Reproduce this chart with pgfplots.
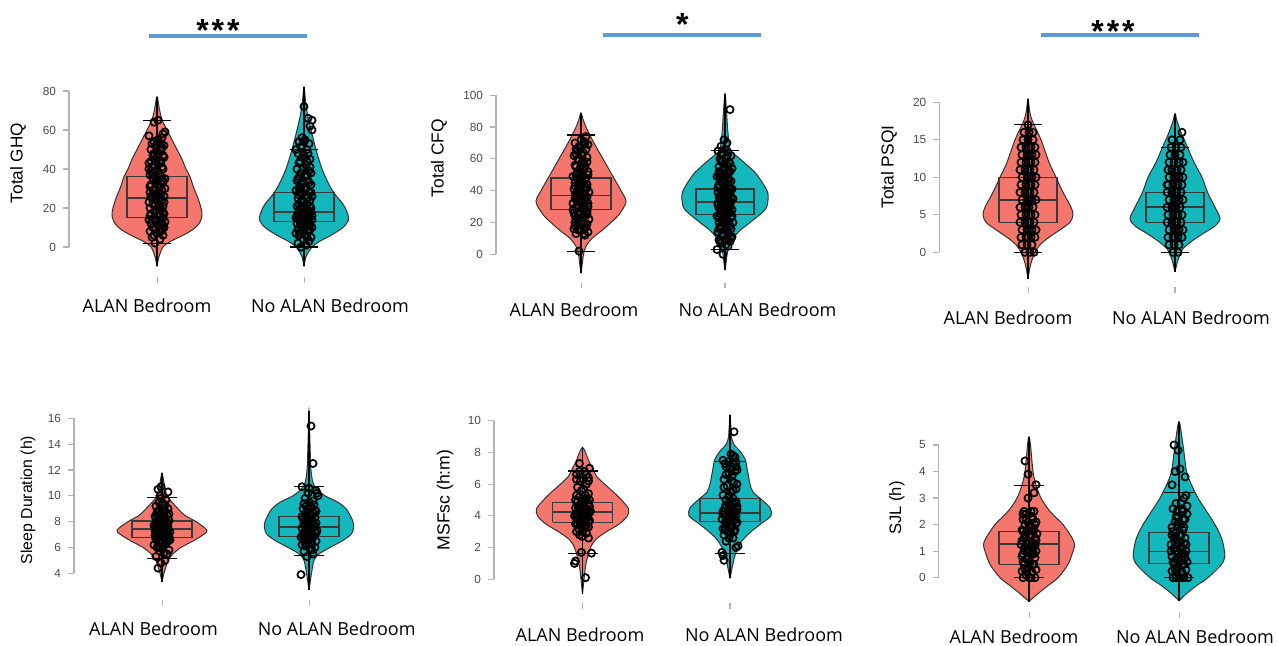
\documentclass[border=0pt]{standalone}
\usepackage{pgfplots}
\pgfplotsset{compat=1.18}
\usepackage{fontspec}
\setmainfont{Liberation Sans}
\newfontfamily\catfont{Open Sans}
\definecolor{vred}{HTML}{F5766C}
\definecolor{vteal}{HTML}{14B7BB}
\definecolor{edge}{HTML}{333333}
\definecolor{boxc}{HTML}{3A3A3A}
\definecolor{sigblue}{HTML}{5B9BD5}
\definecolor{axgray}{HTML}{B4B4B4}
\definecolor{labgray}{HTML}{4A4A4A}
\newcommand{\starfont}{\fontsize{16}{16}\selectfont\bfseries}
\newcommand{\cf}{\catfont\fontsize{9}{10}\selectfont}
\pgfplotsset{
 vio/.style={scale only axis, anchor=south west, axis y line*=left, axis x line=none, clip=false,
   tick align=outside, major tick length=3pt,
   axis line style={draw=axgray, line width=0.6pt},
   tick style={draw=axgray, line width=0.6pt},
   yticklabel style={font=\fontsize{5.9}{6}\selectfont, text=labgray},
   /pgf/number format/assume math mode=true, xtick=\empty},
 vR/.style={fill=vred, draw=edge, line width=0.5pt, smooth, tension=0.5},
 vT/.style={fill=vteal, draw=edge, line width=0.5pt, smooth, tension=0.5},
 bx/.style={draw=boxc, line width=0.6pt},
 md/.style={draw=boxc, line width=0.9pt},
 wk/.style={draw=black, line width=0.55pt},
 pt/.style={only marks, mark=o, mark size=1.8pt, mark options={draw=black, line width=0.85pt}}
}
\begin{document}
\begin{tikzpicture}
\path[use as bounding box] (0,0) rectangle (639pt,323pt);
% ---------------- Panel 1: Total GHQ
\begin{axis}[vio, at={(34.5pt,199.5pt)}, width=165.5pt, height=78pt, xmin=69, xmax=400, ymin=0, ymax=80, ytick={0,20,40,60,80}]
\addplot[vR] table[x expr=\thisrowno{0}+157, y index=1, row sep=\\]{0 -10\\ 2 -5\\ 6 0\\ 14 3\\ 26 6\\ 36 9\\ 42 12\\ 45 16\\ 44 20\\ 41 25\\ 37 30\\ 33 36\\ 29 40\\ 25 45\\ 20 50\\ 15 55\\ 10 60\\ 6 64\\ 3.5 68\\ 2 72\\ 0 77\\ -2 72\\ -3.5 68\\ -6 64\\ -10 60\\ -15 55\\ -20 50\\ -25 45\\ -29 40\\ -33 36\\ -37 30\\ -41 25\\ -44 20\\ -45 16\\ -42 12\\ -36 9\\ -26 6\\ -14 3\\ -6 0\\ -2 -5\\ 0 -10\\};
\addplot[vT] table[x expr=\thisrowno{0}+304, y index=1, row sep=\\]{0 -10\\ 2 -5\\ 8 0\\ 16 3\\ 27 6\\ 39 10\\ 44.5 14\\ 43 18\\ 39 22\\ 31 27\\ 25 32\\ 18 40\\ 12 50\\ 7 60\\ 3.5 68\\ 1.5 75\\ 0 82\\ -1.5 75\\ -3.5 68\\ -7 60\\ -12 50\\ -18 40\\ -25 32\\ -31 27\\ -39 22\\ -43 18\\ -44.5 14\\ -39 10\\ -27 6\\ -16 3\\ -8 0\\ -2 -5\\ 0 -10\\};
\addplot[bx] coordinates {(127,15) (187,15) (187,36) (127,36) (127,15)};
\addplot[md] coordinates {(127,25) (187,25)};
\addplot[wk] coordinates {(157,-10) (157,77)};
\addplot[wk] coordinates {(143,65) (171,65)};
\addplot[wk] coordinates {(143,2) (171,2)};
\addplot[bx] coordinates {(274,13) (334,13) (334,28) (274,28) (274,13)};
\addplot[md] coordinates {(274,18) (334,18)};
\addplot[wk] coordinates {(304,-10) (304,82)};
\addplot[wk] coordinates {(290,50) (318,50)};
\addplot[wk] coordinates {(290,0) (318,0)};
\addplot[pt] table[x expr=\thisrowno{0}+157, y index=1, row sep=\\]{-2 2\\ 3 4\\ -5 5\\ 6 6\\ 0 7\\ -7 8\\ 4 8\\ -2 9\\ 7 10\\ -4 10\\ 1 11\\ -6 12\\ 5 12\\ -1 13\\ 3 14\\ -8 14\\ 6 15\\ -3 15\\ 1 16\\ -6 17\\ 7 17\\ -2 18\\ 4 19\\ -7 20\\ 1 20\\ 6 21\\ -4 22\\ 2 22\\ -8 23\\ 5 24\\ -1 24\\ -5 25\\ 3 25\\ 7 26\\ -3 27\\ 1 28\\ -7 28\\ 5 29\\ -2 30\\ 3 31\\ -6 32\\ 6 33\\ 0 34\\ -4 35\\ 4 36\\ -7 37\\ 2 38\\ -2 39\\ 6 40\\ -5 41\\ 1 42\\ -8 43\\ 4 44\\ -2 45\\ 7 46\\ -4 47\\ 2 48\\ -6 50\\ 5 51\\ -1 52\\ -5 53\\ 4 53\\ 1 55\\ -8 57\\ 6 58\\ 8 59\\ -3 64\\ 1 65\\ 6 18\\ -6 26\\ 8 30\\ -1 33\\ -5 38\\ 3 43\\ -3 48\\ 7 52\\ 8 13\\ 5 9\\ 8 35\\ -8 40\\ -3 6\\ 6 11\\ -7 16\\ -2 19\\ 2 21\\ 7 23\\ -1 26\\ 4 27\\ -4 29\\ -7 31\\ 1 32\\ 6 34\\ -2 36\\ 3 37\\ -6 39\\ 5 41\\ -3 42\\ -6 44\\ 1 46\\ 6 47\\ -1 49\\ 4 50\\ -3 54\\ 5 56\\};
\addplot[pt] table[x expr=\thisrowno{0}+304, y index=1, row sep=\\]{-3 0\\ 2 1\\ -6 2\\ 5 3\\ -1 4\\ 7 5\\ -5 6\\ 2 6\\ -8 7\\ 4 8\\ -2 8\\ 6 9\\ -6 9\\ 0 10\\ 8 10\\ -4 11\\ 3 11\\ -7 12\\ 6 12\\ -1 13\\ 4 13\\ -5 14\\ 8 14\\ 1 15\\ -8 15\\ 5 16\\ -3 16\\ 2 17\\ -6 17\\ 7 18\\ -1 18\\ 4 19\\ -5 19\\ 0 20\\ 7 20\\ -7 21\\ 3 22\\ -3 23\\ 6 24\\ -6 25\\ 1 26\\ -2 27\\ 5 28\\ -8 29\\ 2 30\\ -4 31\\ 7 32\\ -1 33\\ 4 34\\ -6 35\\ 1 36\\ -3 38\\ 5 39\\ -7 40\\ 2 42\\ -4 44\\ 6 45\\ -1 47\\ -6 48\\ 3 50\\ -3 51\\ 5 53\\ -5 54\\ 1 55\\ -2 56\\ 8 60\\ 6 62\\ 8 65\\ 4 66\\ 0 72\\ -5 22\\ 8 26\\ -5 30\\ -7 34\\ 7 38\\ 3 44\\ -8 50\\ -2 24\\ -4 28\\ 1 12\\ 8 16\\ 3 5\\ -4 7\\ 5 9\\ -2 11\\ 2 14\\ -7 16\\ 4 18\\ -3 20\\ 6 21\\ -1 23\\ 3 25\\ -6 27\\ 7 28\\ 0 30\\ -2 32\\ 5 33\\ -5 36\\ 3 37\\ -1 40\\ 6 41\\ -5 43\\ 1 46\\ 4 48\\ -2 52\\ 0 54\\};
\end{axis}
% ---------------- Panel 2: Total CFQ
\begin{axis}[vio, at={(248pt,195.85pt)}, width=177pt, height=79.5pt, xmin=496, xmax=850, ymin=0, ymax=100, ytick={0,20,40,60,80,100}]
\addplot[vR] table[x expr=\thisrowno{0}+581, y index=1, row sep=\\]{0 -12\\ 1.5 -5\\ 2.5 0\\ 5 5\\ 11 10\\ 21 15\\ 30 20\\ 38 25\\ 45 33\\ 40 40\\ 31 50\\ 22 60\\ 13 70\\ 5 80\\ 2 85\\ 0 89\\ -2 85\\ -5 80\\ -13 70\\ -22 60\\ -31 50\\ -40 40\\ -45 33\\ -38 25\\ -30 20\\ -21 15\\ -11 10\\ -5 5\\ -2.5 0\\ -1.5 -5\\ 0 -12\\};
\addplot[vT] table[x expr=\thisrowno{0}+725, y index=1, row sep=\\]{0 -10\\ 1.5 -3\\ 2 0\\ 4 5\\ 8 10\\ 15 15\\ 25 20\\ 40 28\\ 43 34\\ 42 40\\ 32 50\\ 24 55\\ 15 60\\ 6 65\\ 4 70\\ 2.5 80\\ 1.5 90\\ 0 101\\ -1.5 90\\ -2.5 80\\ -4 70\\ -6 65\\ -15 60\\ -24 55\\ -32 50\\ -42 40\\ -43 34\\ -40 28\\ -25 20\\ -15 15\\ -8 10\\ -4 5\\ -2 0\\ -1.5 -3\\ 0 -10\\};
\addplot[bx] coordinates {(551,28) (611,28) (611,48) (551,48) (551,28)};
\addplot[md] coordinates {(551,37) (611,37)};
\addplot[wk] coordinates {(581,-12) (581,89)};
\addplot[wk] coordinates {(567,75) (595,75)};
\addplot[wk] coordinates {(567,2) (595,2)};
\addplot[bx] coordinates {(696,25) (754,25) (754,41) (696,41) (696,25)};
\addplot[md] coordinates {(696,33) (754,33)};
\addplot[wk] coordinates {(725,-10) (725,101)};
\addplot[wk] coordinates {(711,65) (739,65)};
\addplot[wk] coordinates {(711,3) (739,3)};
\addplot[pt] table[x expr=\thisrowno{0}+581, y index=1, row sep=\\]{-2 2\\ 4 12\\ -5 13\\ 7 14\\ 0 15\\ -7 16\\ 3 17\\ -3 18\\ 6 19\\ -6 20\\ 1 21\\ 8 22\\ -4 23\\ 4 24\\ -1 25\\ -7 26\\ 6 27\\ 2 28\\ -5 29\\ 7 30\\ -2 30\\ 3 31\\ -8 32\\ 5 33\\ -3 34\\ 1 35\\ -6 35\\ 6 36\\ -1 37\\ 4 37\\ -5 38\\ 8 39\\ 0 40\\ -7 41\\ 3 42\\ -3 43\\ 6 44\\ -6 45\\ 1 46\\ -2 47\\ 5 48\\ -8 49\\ 2 50\\ -4 51\\ 7 52\\ -1 54\\ 4 55\\ -6 56\\ 1 58\\ -3 60\\ 6 61\\ -7 62\\ 2 64\\ -4 65\\ 5 66\\ -2 68\\ 7 69\\ -6 70\\ 3 71\\ 0 72\\ 5 74\\ -2 22\\ -8 28\\ 0 33\\ -4 39\\ -1 44\\ -5 50\\ 3 57\\ -5 63\\ 0 67\\ 5 26\\ 5 41\\ 3 13\\ -2 15\\ 5 17\\ -6 18\\ 1 19\\ -3 21\\ 2 23\\ -6 24\\ 6 25\\ -1 27\\ 3 29\\ -4 31\\ 7 32\\ -2 34\\ 4 35\\ -6 37\\ 2 38\\ -3 40\\ 6 42\\ -6 43\\ 1 45\\ 4 47\\ -4 48\\ 7 50\\ -1 51\\ 2 53\\ -5 55\\ 6 58\\ -2 59\\ 1 62\\ -5 66\\ 4 70\\};
\addplot[pt] table[x expr=\thisrowno{0}+725, y index=1, row sep=\\]{-2 0\\ -8 3\\ 3 5\\ -4 7\\ 5 8\\ -6 9\\ 1 10\\ 7 11\\ -3 12\\ 4 13\\ -7 14\\ 0 15\\ 6 16\\ -5 17\\ 2 18\\ -1 19\\ 8 20\\ -6 20\\ 3 21\\ -3 22\\ 6 23\\ -8 24\\ 1 25\\ -4 25\\ 5 26\\ -2 27\\ 7 28\\ -6 29\\ 2 29\\ -1 30\\ 4 31\\ -7 32\\ 0 32\\ 6 33\\ -3 33\\ 3 34\\ -5 35\\ 8 35\\ 1 36\\ -2 37\\ 5 38\\ -7 39\\ 2 40\\ -4 40\\ 7 41\\ -1 42\\ 4 43\\ -6 44\\ 0 45\\ 6 46\\ -3 47\\ 3 48\\ -8 49\\ 1 50\\ -4 51\\ 5 52\\ -2 53\\ 7 54\\ -6 55\\ 2 56\\ -1 57\\ 4 58\\ -5 60\\ 1 61\\ 6 62\\ -3 63\\ 3 64\\ -7 65\\ 0 66\\ -4 68\\ 2 70\\ -1 72\\ 5 91\\ 3 14\\ -4 18\\ 0 23\\ 4 27\\ -4 31\\ -6 36\\ -1 38\\ 2 44\\ -5 48\\ -6 52\\ -3 58\\ 1 6\\ -5 8\\ 6 10\\ -1 12\\ 2 15\\ -6 16\\ 5 18\\ -2 20\\ 1 22\\ -6 23\\ 7 24\\ -1 26\\ 3 28\\ -4 29\\ 5 30\\ -7 31\\ 1 33\\ -2 34\\ 6 36\\ -5 37\\ 3 38\\ -1 39\\ 5 41\\ -7 42\\ 1 43\\ -3 45\\ 4 47\\ 0 49\\ -6 50\\ 3 52\\ -1 55\\ 5 57\\ -4 59\\ 2 62\\};
\end{axis}
% ---------------- Panel 3: Total PSQI
\begin{axis}[vio, at={(469.65pt,196.85pt)}, width=169.35pt, height=75pt, xmin=939.3, xmax=1278, ymin=0, ymax=20, ytick={0,5,10,15,20}]
\addplot[vR] table[x expr=\thisrowno{0}+1028, y index=1, row sep=\\]{0 -3.5\\ 2 -2\\ 4 -1\\ 7 0\\ 12 1\\ 21 2\\ 32 3\\ 42 4\\ 45 5\\ 43 6\\ 35 8\\ 28 10\\ 21 12\\ 13 15\\ 6 17\\ 3 18\\ 1.5 19\\ 0 20.4\\ -1.5 19\\ -3 18\\ -6 17\\ -13 15\\ -21 12\\ -28 10\\ -35 8\\ -43 6\\ -45 5\\ -42 4\\ -32 3\\ -21 2\\ -12 1\\ -7 0\\ -4 -1\\ -2 -2\\ 0 -3.5\\};
\addplot[vT] table[x expr=\thisrowno{0}+1175, y index=1, row sep=\\]{0 -2.6\\ 3 -1\\ 6 0\\ 8 0.5\\ 17 1.5\\ 28 2.5\\ 40 3.5\\ 45 4.5\\ 40 6\\ 32.5 8\\ 27 10\\ 19 12\\ 12.5 14\\ 6 16\\ 2 17.5\\ 0 18.5\\ -2 17.5\\ -6 16\\ -12.5 14\\ -19 12\\ -27 10\\ -32.5 8\\ -40 6\\ -45 4.5\\ -40 3.5\\ -28 2.5\\ -17 1.5\\ -8 0.5\\ -6 0\\ -3 -1\\ 0 -2.6\\};
\addplot[bx] coordinates {(999,4) (1057,4) (1057,10) (999,10) (999,4)};
\addplot[md] coordinates {(999,7) (1057,7)};
\addplot[wk] coordinates {(1028,-3.5) (1028,20.4)};
\addplot[wk] coordinates {(1014,17) (1042,17)};
\addplot[wk] coordinates {(1014,0) (1042,0)};
\addplot[bx] coordinates {(1146,4) (1204,4) (1204,8) (1146,8) (1146,4)};
\addplot[md] coordinates {(1146,6) (1204,6)};
\addplot[wk] coordinates {(1175,-2.6) (1175,18.5)};
\addplot[wk] coordinates {(1161,14) (1189,14)};
\addplot[wk] coordinates {(1161,0) (1189,0)};
\addplot[pt] table[x expr=\thisrowno{0}+1028, y index=1, row sep=\\]{-3 0\\ 2 0\\ 6 0\\ -6 1\\ -1 1\\ 4 1\\ -7 2\\ -2 2\\ 3 2\\ 7 2\\ -6 3\\ -1 3\\ 4 3\\ 8 3\\ -8 4\\ -3 4\\ 2 4\\ 6 4\\ -7 5\\ -2 5\\ 3 5\\ 7 5\\ -8 6\\ -3 6\\ 1 6\\ 5 6\\ -6 7\\ -1 7\\ 4 7\\ 8 7\\ -8 8\\ -3 8\\ 2 8\\ 6 8\\ -7 9\\ -2 9\\ 3 9\\ 7 9\\ -6 10\\ -1 10\\ 4 10\\ 8 10\\ -8 11\\ -3 11\\ 2 11\\ 6 11\\ -7 12\\ -2 12\\ 3 12\\ 7 12\\ -6 13\\ -1 13\\ 4 13\\ 8 13\\ -7 14\\ -2 14\\ 3 14\\ 7 14\\ -5 15\\ 0 15\\ 5 15\\ -4 16\\ 1 16\\ 5 16\\ 0 17\\ 0 2\\ 1 3\\ 0 4\\ 1 5\\ -1 6\\ 1 7\\ 0 8\\ 1 9\\ 1 10\\ 0 11\\ 1 12\\ 1 13\\ 1 14\\};
\addplot[pt] table[x expr=\thisrowno{0}+1175, y index=1, row sep=\\]{-2 0\\ 3 0\\ -6 1\\ -1 1\\ 4 1\\ -7 2\\ -2 2\\ 3 2\\ 7 2\\ -6 3\\ -1 3\\ 4 3\\ 8 3\\ -8 4\\ -3 4\\ 2 4\\ 6 4\\ -7 5\\ -2 5\\ 3 5\\ 7 5\\ -8 6\\ -3 6\\ 1 6\\ 5 6\\ -6 7\\ -1 7\\ 4 7\\ 8 7\\ -8 8\\ -3 8\\ 2 8\\ 6 8\\ -7 9\\ -2 9\\ 3 9\\ 7 9\\ -6 10\\ -1 10\\ 4 10\\ 8 10\\ -7 11\\ -3 11\\ 2 11\\ 6 11\\ -6 12\\ -1 12\\ 4 12\\ -5 13\\ 0 13\\ 5 13\\ -4 14\\ 1 14\\ 6 14\\ -3 15\\ 5 15\\ 7 16\\ 0 2\\ 1 3\\ 0 4\\ 1 5\\ -1 6\\ 1 7\\ 0 8\\ 1 9\\ 1 10\\ 0 11\\ 8 12\\ -8 9\\};
\end{axis}
% ---------------- Panel 4: Sleep Duration
\begin{axis}[vio, at={(37pt,36.35pt)}, width=173pt, height=77.5pt, xmin=74, xmax=420, ymin=4, ymax=16, ytick={4,6,8,10,12,14,16}]
\addplot[vR] table[x expr=\thisrowno{0}+162, y index=1, row sep=\\]{0 3.35\\ 2 4\\ 4 4.5\\ 6 5\\ 11 5.5\\ 19 6\\ 31 6.5\\ 41.5 7\\ 45 7.35\\ 34 8\\ 22.5 8.5\\ 16 9\\ 10 9.5\\ 5 10\\ 2 11\\ 0 11.74\\ -2 11\\ -5 10\\ -10 9.5\\ -16 9\\ -22.5 8.5\\ -34 8\\ -45 7.35\\ -41.5 7\\ -31 6.5\\ -19 6\\ -11 5.5\\ -6 5\\ -4 4.5\\ -2 4\\ 0 3.35\\};
\addplot[vT] table[x expr=\thisrowno{0}+309, y index=1, row sep=\\]{0 2.71\\ 2.5 4\\ 5 5\\ 10 5.5\\ 21 6\\ 33 6.5\\ 42 7\\ 44.5 7.5\\ 44 8\\ 41 8.5\\ 37 9\\ 29 9.5\\ 16 10\\ 8 10.5\\ 4 11\\ 2 12\\ 1 14\\ 0 16.6\\ -1 14\\ -2 12\\ -4 11\\ -8 10.5\\ -16 10\\ -29 9.5\\ -37 9\\ -41 8.5\\ -44 8\\ -44.5 7.5\\ -42 7\\ -33 6.5\\ -21 6\\ -10 5.5\\ -5 5\\ -2.5 4\\ 0 2.71\\};
\addplot[bx] coordinates {(132,6.76) (192,6.76) (192,8.05) (132,8.05) (132,6.76)};
\addplot[md] coordinates {(132,7.4) (192,7.4)};
\addplot[wk] coordinates {(162,3.35) (162,11.74)};
\addplot[wk] coordinates {(147,9.85) (177,9.85)};
\addplot[wk] coordinates {(147,5.16) (177,5.16)};
\addplot[bx] coordinates {(279,6.84) (339,6.84) (339,8.38) (279,8.38) (279,6.84)};
\addplot[md] coordinates {(279,7.6) (339,7.6)};
\addplot[wk] coordinates {(309,2.71) (309,16.6)};
\addplot[wk] coordinates {(294,10.7) (324,10.7)};
\addplot[wk] coordinates {(294,5.37) (324,5.37)};
\addplot[pt] table[x expr=\thisrowno{0}+162, y index=1, row sep=\\]{-4 4.4\\ -1 4.8\\ 3 5.0\\ -6 5.3\\ 5 5.5\\ -2 5.7\\ 7 5.8\\ -5 6.0\\ 1 6.1\\ -8 6.2\\ 4 6.3\\ -3 6.4\\ 6 6.5\\ 0 6.5\\ -6 6.6\\ 3 6.7\\ -2 6.8\\ 7 6.8\\ -7 6.9\\ 1 7.0\\ 5 7.0\\ -4 7.1\\ 8 7.2\\ -1 7.2\\ 3 7.3\\ -6 7.4\\ 6 7.4\\ 0 7.5\\ -3 7.5\\ 4 7.6\\ -8 7.7\\ 2 7.7\\ -2 7.8\\ 6 7.9\\ -5 8.0\\ 1 8.0\\ 7 8.1\\ -3 8.2\\ 3 8.3\\ -7 8.4\\ 5 8.5\\ -1 8.6\\ -5 8.7\\ 3 8.8\\ -3 8.9\\ 6 9.0\\ -6 9.2\\ 1 9.4\\ -3 9.5\\ 4 9.7\\ -2 10.0\\ 6 10.3\\ -4 10.5\\ -1 10.7\\ 2 6.2\\ -3 6.9\\ 3 7.1\\ -5 7.6\\ -1 8.1\\ 0 8.4\\ -7 7.3\\ 8 6.6\\ 2 5.6\\ -3 6.0\\ 4 6.4\\ -6 6.7\\ 0 6.9\\ 6 7.1\\ -2 7.3\\ 2 7.5\\ -7 7.6\\ 5 7.8\\ -1 7.9\\ 3 8.2\\ -4 8.5\\ 1 8.8\\ -6 8.3\\ 7 8.6\\ 0 9.1\\ -1 9.8\\ 3 9.3\\ 6 7.6\\};
\addplot[pt] table[x expr=\thisrowno{0}+309, y index=1, row sep=\\]{-8 3.9\\ -2 5.3\\ 4 5.5\\ -5 5.7\\ 1 5.9\\ 6 6.0\\ -3 6.1\\ -7 6.2\\ 3 6.3\\ -1 6.4\\ 7 6.5\\ -5 6.6\\ 2 6.7\\ -8 6.8\\ 5 6.9\\ -2 7.0\\ 1 7.0\\ -6 7.1\\ 6 7.2\\ -3 7.3\\ 3 7.4\\ -7 7.5\\ 0 7.5\\ 5 7.6\\ -4 7.6\\ 2 7.7\\ -1 7.8\\ 7 7.9\\ -5 8.0\\ 3 8.1\\ -2 8.2\\ 6 8.3\\ -7 8.4\\ 1 8.5\\ -4 8.6\\ 4 8.7\\ -1 8.8\\ 6 8.9\\ -6 9.0\\ 2 9.1\\ -3 9.2\\ 5 9.3\\ 0 9.5\\ -4 9.8\\ 9 10.0\\ -1 10.2\\ 7 10.4\\ -7 10.7\\ 4 12.5\\ 2 15.4\\ 1 6.6\\ -1 7.2\\ 4 7.8\\ 0 8.0\\ -3 8.4\\ 8 7.3\\ -4 6.9\\ 3 5.8\\ -4 6.3\\ 0 6.6\\ 4 6.8\\ -6 6.9\\ 7 7.1\\ -1 7.3\\ 2 7.4\\ -5 7.8\\ 6 7.7\\ 0 8.2\\ -6 8.2\\ 3 8.5\\ -2 8.7\\ 7 8.8\\ 1 9.2\\ -5 9.4\\ 4 9.6\\ 0 10.6\\ 8 10.2\\};
\end{axis}
% ---------------- Panel 5: MSFsc
\begin{axis}[vio, at={(247pt,33.35pt)}, width=178pt, height=79.3pt, xmin=494, xmax=850, ymin=0, ymax=10, ytick={0,2,4,6,8,10}]
\addplot[vR] table[x expr=\thisrowno{0}+582.5, y index=1, row sep=\\]{0 -0.93\\ 2 0.3\\ 3.5 1\\ 5.5 1.5\\ 8 2\\ 13 2.5\\ 24 3\\ 37 3.5\\ 45 4\\ 46 4.45\\ 39 5\\ 31 5.5\\ 22 6\\ 14 6.5\\ 10 7\\ 6 7.5\\ 3 8\\ 0 8.32\\ -3 8\\ -6 7.5\\ -10 7\\ -14 6.5\\ -22 6\\ -31 5.5\\ -39 5\\ -46 4.45\\ -45 4\\ -37 3.5\\ -24 3\\ -13 2.5\\ -8 2\\ -5.5 1.5\\ -3.5 1\\ -2 0.3\\ 0 -0.93\\};
\addplot[vT] table[x expr=\thisrowno{0}+730, y index=1, row sep=\\]{0 0.06\\ 3 1\\ 5 1.5\\ 8 2\\ 13 2.5\\ 21 3\\ 31 3.5\\ 41 4\\ 40 4.5\\ 32 5\\ 23 5.5\\ 20 6\\ 18.5 6.5\\ 17 7\\ 15.5 7.5\\ 11 8\\ 4 8.5\\ 1.5 9\\ 0 10.33\\ -1.5 9\\ -4 8.5\\ -11 8\\ -15.5 7.5\\ -17 7\\ -18.5 6.5\\ -20 6\\ -23 5.5\\ -32 5\\ -40 4.5\\ -41 4\\ -31 3.5\\ -21 3\\ -13 2.5\\ -8 2\\ -5 1.5\\ -3 1\\ 0 0.06\\};
\addplot[bx] coordinates {(552.5,3.6) (612.5,3.6) (612.5,4.86) (552.5,4.86) (552.5,3.6)};
\addplot[md] coordinates {(552.5,4.23) (612.5,4.23)};
\addplot[wk] coordinates {(582.5,-0.93) (582.5,8.32)};
\addplot[wk] coordinates {(567.5,6.83) (597.5,6.83)};
\addplot[wk] coordinates {(567.5,1.64) (597.5,1.64)};
\addplot[bx] coordinates {(700,3.63) (760,3.63) (760,5.1) (700,5.1) (700,3.63)};
\addplot[md] coordinates {(700,4.2) (760,4.2)};
\addplot[wk] coordinates {(730,0.06) (730,10.33)};
\addplot[wk] coordinates {(715,7.42) (745,7.42)};
\addplot[wk] coordinates {(715,1.64) (745,1.64)};
\addplot[pt] table[x expr=\thisrowno{0}+582.5, y index=1, row sep=\\]{3 0.1\\ -8 1.0\\ -7 1.15\\ 9 1.65\\ -1 1.7\\ 6 2.6\\ -3 2.8\\ 4 2.9\\ -6 3.0\\ 1 3.1\\ -4 3.2\\ 6 3.3\\ -1 3.4\\ -7 3.5\\ 3 3.6\\ -3 3.6\\ 7 3.7\\ -5 3.8\\ 1 3.8\\ 5 3.9\\ -2 4.0\\ -8 4.0\\ 3 4.1\\ -5 4.2\\ 7 4.2\\ 0 4.3\\ -3 4.4\\ 5 4.4\\ -7 4.5\\ 2 4.6\\ -2 4.7\\ 6 4.8\\ -5 4.9\\ 1 5.0\\ 4 5.1\\ -3 5.2\\ 6 5.4\\ -1 5.6\\ -5 5.8\\ 4 6.0\\ -2 6.2\\ 6 6.4\\ -6 6.6\\ 2 6.8\\ 7 7.0\\ -3 7.3\\ 4 3.4\\ -1 3.9\\ -6 4.1\\ -4 4.6\\ 8 4.3\\ -6 5.3\\ 7 5.0\\ 1 6.3\\ 0 3.0\\ 2 3.3\\ -5 3.5\\ 6 3.6\\ -2 3.7\\ 3 3.9\\ -6 4.0\\ 5 4.1\\ 1 4.4\\ -4 4.5\\ 7 4.6\\ -1 4.9\\ 3 5.3\\ -7 5.0\\ 1 5.7\\ 6 6.2\\ -3 6.8\\ 4 6.6\\ -6 6.3\\ 0 2.7\\};
\addplot[pt] table[x expr=\thisrowno{0}+730, y index=1, row sep=\\]{-6 1.2\\ -7 1.5\\ -8 1.7\\ 6 2.0\\ 8 2.1\\ -4 2.4\\ 3 2.6\\ -6 2.8\\ 1 2.9\\ -2 3.0\\ 5 3.1\\ -7 3.2\\ 2 3.3\\ -3 3.4\\ 6 3.5\\ -5 3.6\\ 0 3.6\\ 4 3.7\\ -8 3.8\\ 2 3.9\\ -3 4.0\\ 6 4.0\\ -6 4.1\\ 1 4.2\\ 4 4.2\\ -2 4.3\\ 7 4.4\\ -5 4.5\\ 2 4.6\\ -1 4.7\\ 5 4.8\\ -4 5.0\\ 3 5.1\\ -7 5.3\\ 1 5.5\\ 6 5.7\\ -3 5.9\\ 4 6.1\\ -6 6.3\\ 2 6.5\\ -1 6.7\\ 7 6.9\\ -4 7.1\\ 3 7.3\\ -7 7.5\\ 5 7.7\\ 1 7.9\\ 4 9.3\\ -5 3.3\\ 5 3.8\\ -7 4.3\\ 7 4.6\\ -1 5.2\\ 7 6.0\\ 0 7.0\\ 6 7.4\\ -1 2.6\\ 4 3.0\\ -5 3.1\\ 0 3.4\\ 7 3.6\\ -3 3.7\\ 3 4.0\\ -7 4.1\\ 5 4.3\\ 0 4.5\\ -4 4.7\\ 6 4.9\\ -1 5.3\\ 3 5.6\\ -6 5.8\\ 2 6.2\\ -4 6.6\\ 5 6.8\\ -2 7.4\\ 3 7.8\\ -5 7.3\\ 6 7.1\\};
\end{axis}
% ---------------- Panel 6: SJL
\begin{axis}[vio, at={(469.35pt,34.15pt)}, width=169.65pt, height=66.35pt, xmin=938.7, xmax=1278, ymin=0, ymax=5, ytick={0,1,2,3,4,5}]
\addplot[vR] table[x expr=\thisrowno{0}+1029, y index=1, row sep=\\]{0 -0.9\\ 9 -0.6\\ 19 -0.3\\ 29 0\\ 39 0.5\\ 44 1\\ 45.5 1.25\\ 43 1.5\\ 34 2\\ 21 2.5\\ 12 3\\ 7 3.5\\ 4 4\\ 1.5 5\\ 0 5.31\\ -1.5 5\\ -4 4\\ -7 3.5\\ -12 3\\ -21 2.5\\ -34 2\\ -43 1.5\\ -45.5 1.25\\ -44 1\\ -39 0.5\\ -29 0\\ -19 -0.3\\ -9 -0.6\\ 0 -0.9\\};
\addplot[vT] table[x expr=\thisrowno{0}+1179, y index=1, row sep=\\]{0 -0.87\\ 7.5 -0.6\\ 17.5 -0.3\\ 29 0\\ 42.5 0.5\\ 45.8 0.8\\ 45 1.1\\ 42.5 1.5\\ 36 2\\ 27.5 2.5\\ 19 3\\ 12.5 3.5\\ 7.5 4\\ 4 5\\ 0 5.88\\ -4 5\\ -7.5 4\\ -12.5 3.5\\ -19 3\\ -27.5 2.5\\ -36 2\\ -42.5 1.5\\ -45 1.1\\ -45.8 0.8\\ -42.5 0.5\\ -29 0\\ -17.5 -0.3\\ -7.5 -0.6\\ 0 -0.87\\};
\addplot[bx] coordinates {(999,0.5) (1059,0.5) (1059,1.73) (999,1.73) (999,0.5)};
\addplot[md] coordinates {(999,1.26) (1059,1.26)};
\addplot[wk] coordinates {(1029,-0.9) (1029,5.31)};
\addplot[wk] coordinates {(1014,3.49) (1044,3.49)};
\addplot[wk] coordinates {(1014,0) (1044,0)};
\addplot[bx] coordinates {(1149,0.52) (1209,0.52) (1209,1.7) (1149,1.7) (1149,0.52)};
\addplot[md] coordinates {(1149,0.99) (1209,0.99)};
\addplot[wk] coordinates {(1179,-0.87) (1179,5.88)};
\addplot[wk] coordinates {(1164,3.2) (1194,3.2)};
\addplot[wk] coordinates {(1164,0) (1194,0)};
\addplot[pt] table[x expr=\thisrowno{0}+1029, y index=1, row sep=\\]{-6 0\\ 0 0\\ 6 0\\ -3 0.1\\ 3 0.2\\ -7 0.25\\ 7 0.3\\ -1 0.4\\ -5 0.5\\ 5 0.5\\ 1 0.6\\ -3 0.7\\ 6 0.75\\ -7 0.8\\ 3 0.9\\ -2 1.0\\ 7 1.0\\ -5 1.1\\ 2 1.2\\ -8 1.25\\ 5 1.3\\ -1 1.4\\ -5 1.5\\ 6 1.5\\ 1 1.6\\ -3 1.7\\ 4 1.75\\ -7 1.8\\ 2 1.9\\ -4 2.0\\ 6 2.0\\ -1 2.1\\ -6 2.2\\ 3 2.3\\ -3 2.4\\ 5 2.5\\ -1 3.0\\ 5 3.2\\ 7 3.5\\ -1 3.9\\ -4 4.4\\ -4 0.3\\ -6 0.9\\ 6 1.2\\ -7 1.4\\ 8 1.65\\ 7 2.1\\ -5 2.5\\ 0 1.0\\ 2 0\\ -2 0.25\\ 4 0.5\\ -6 0.6\\ 0 0.75\\ 5 0.9\\ -4 1.0\\ 3 1.1\\ -1 1.25\\ 7 1.4\\ -3 1.5\\ 2 1.6\\ -6 1.75\\ 5 1.8\\ 0 2.0\\ -3 2.2\\ 4 2.2\\ -6 2.4\\ 2 2.5\\ 0 0.5\\};
\addplot[pt] table[x expr=\thisrowno{0}+1179, y index=1, row sep=\\]{-6 0\\ 0 0\\ 5 0\\ 9 0\\ -3 0.1\\ 3 0.2\\ -7 0.25\\ 7 0.3\\ -1 0.4\\ -5 0.5\\ 5 0.5\\ 1 0.6\\ -3 0.7\\ 6 0.75\\ -7 0.8\\ 3 0.9\\ -2 1.0\\ 7 1.0\\ -8 1.0\\ -5 1.1\\ 2 1.2\\ -8 1.25\\ 5 1.3\\ -1 1.4\\ -5 1.5\\ 6 1.5\\ 1 1.6\\ -3 1.7\\ 4 1.8\\ -7 1.9\\ 2 2.0\\ -4 2.1\\ 6 2.2\\ -1 2.3\\ 4 2.5\\ -6 2.6\\ 8 2.7\\ 2 2.8\\ 5 3.0\\ -7 3.5\\ 6 3.8\\ -4 4.0\\ 1 4.1\\ -1 4.8\\ -5 5.0\\ -4 0.3\\ 8 0.6\\ -4 1.3\\ -7 1.6\\ -2 2.0\\ 8 2.4\\ -1 0.9\\ 2 0\\ -3 0\\ -2 0.25\\ 4 0.5\\ -6 0.6\\ 0 0.75\\ 5 0.9\\ -4 1.0\\ 3 1.1\\ -1 1.25\\ 7 1.25\\ -3 1.5\\ 2 1.6\\ -6 1.75\\ 5 1.9\\ 0 2.1\\ -3 2.3\\ 4 2.2\\ -2 2.5\\ 3 2.6\\ 7 3.1\\ -3 2.8\\};
\end{axis}
% ---------------- decorations in pixel coordinates
\begin{scope}[x=0.5pt, y=-0.5pt, shift={(0pt,323pt)}]
\draw[sigblue, line width=2pt] (149,36) -- (306.7,36);
\draw[sigblue, line width=2pt] (603.3,34.7) -- (760.7,34.7);
\draw[sigblue, line width=2pt] (1041,35.5) -- (1199,35.5);
\node[anchor=base, inner sep=0pt, font=\starfont] at (218,41.5) {*\kern1.5pt*\kern1.5pt*};
\node[anchor=base, inner sep=0pt, font=\starfont] at (682.3,35.5) {*};
\node[anchor=base, inner sep=0pt, font=\starfont] at (1113,42.5) {*\kern1.5pt*\kern1.5pt*};
\foreach \xx/\ya/\yb in {157.3/276.7/282.7, 304.3/276.7/282.7, 581.7/282.7/287.7, 725/282.7/287.7, 1028.3/287.3/293.3, 1175/287.3/293.3, 162.3/600/606, 309.3/600/606, 582.7/603.3/609.3, 730/603.3/609.3, 1029.3/611.7/617.7, 1179.3/611.7/617.7}
  \draw[axgray, line width=0.6pt] (\xx,\ya) -- (\xx,\yb);
\node[anchor=base, inner sep=0pt, font=\cf] at (147,313) {ALAN Bedroom};
\node[anchor=base, inner sep=0pt, font=\cf] at (330,313) {No ALAN Bedroom};
\node[anchor=base, inner sep=0pt, font=\cf] at (574,317) {ALAN Bedroom};
\node[anchor=base, inner sep=0pt, font=\cf] at (757.5,317) {No ALAN Bedroom};
\node[anchor=base, inner sep=0pt, font=\cf] at (1008,325) {ALAN Bedroom};
\node[anchor=base, inner sep=0pt, font=\cf] at (1191,325) {No ALAN Bedroom};
\node[anchor=base, inner sep=0pt, font=\cf] at (153.5,636) {ALAN Bedroom};
\node[anchor=base, inner sep=0pt, font=\cf] at (336.7,636) {No ALAN Bedroom};
\node[anchor=base, inner sep=0pt, font=\cf] at (580,641.5) {ALAN Bedroom};
\node[anchor=base, inner sep=0pt, font=\cf] at (764,641.5) {No ALAN Bedroom};
\node[anchor=base, inner sep=0pt, font=\cf] at (1014,643.5) {ALAN Bedroom};
\node[anchor=base, inner sep=0pt, font=\cf] at (1195,643.5) {No ALAN Bedroom};
\node[rotate=90, inner sep=0pt, font=\fontsize{8.6}{10}\selectfont] at (18,163) {Total GHQ};
\node[rotate=90, inner sep=0pt, font=\fontsize{8.7}{10}\selectfont] at (439,158) {Total CFQ};
\node[rotate=90, inner sep=0pt, font=\fontsize{8.7}{10}\selectfont] at (889,167) {Total PSQI};
\node[rotate=90, inner sep=0pt, font=\fontsize{7.9}{10}\selectfont] at (28,500) {Sleep Duration (h)};
\node[rotate=90, inner sep=0pt, font=\fontsize{8.8}{10}\selectfont] at (445,500) {MSFsc (h:m)};
\node[rotate=90, inner sep=0pt, font=\fontsize{8.3}{10}\selectfont] at (896.7,508) {SJL (h)};
\end{scope}
\end{tikzpicture}
\end{document}
